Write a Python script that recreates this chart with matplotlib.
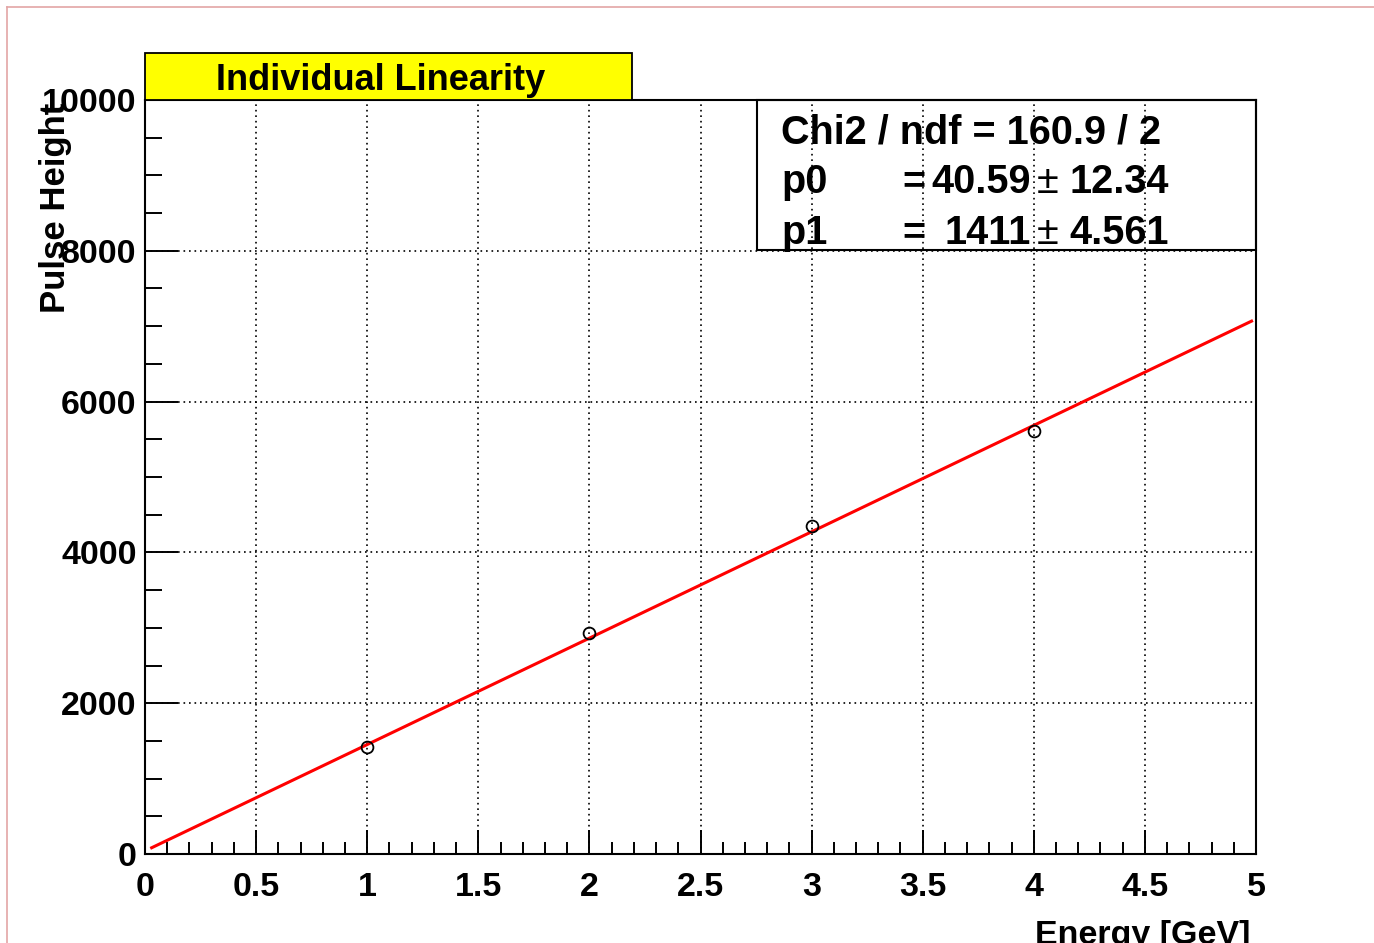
import numpy as np
import matplotlib
matplotlib.use('Agg')
import matplotlib.pyplot as plt
from matplotlib.lines import Line2D
from matplotlib.patches import Rectangle
from matplotlib.ticker import MultipleLocator

plt.rcParams['font.family'] = ['Liberation Sans', 'DejaVu Sans']
plt.rcParams['font.weight'] = 'bold'

# measured points
energy = [1, 2, 3, 4]
pulse = [1415, 2930, 4355, 5610]

# linear fit result (pol1)
p0, p0_err = 40.59, 12.34
p1, p1_err = 1411, 4.561
chi2, ndf = 160.9, 2
fit_lo, fit_hi = 0.03, 4.98

W, H = 1374, 943
fig = plt.figure(figsize=(W / 100, H / 100), dpi=100)


def fx(px):
    return px / W


def fy(py):
    return 1 - py / H


ax = fig.add_axes([fx(145), fy(854), fx(1256) - fx(145), fy(100) - fy(854)])

xf = np.array([fit_lo, fit_hi])
ax.plot(xf, p0 + p1 * xf, color='red', lw=2.2, zorder=3)
ax.plot(energy, pulse, 'o', mfc='none', mec='black', ms=8.5, mew=1.3, zorder=4)

ax.set_xlim(0, 5)
ax.set_ylim(0, 10000)
ax.xaxis.set_major_locator(MultipleLocator(0.5))
ax.xaxis.set_minor_locator(MultipleLocator(0.1))
ax.yaxis.set_major_locator(MultipleLocator(2000))
ax.yaxis.set_minor_locator(MultipleLocator(500))
ax.set_xticks(np.arange(0, 5.01, 0.5))
ax.set_xticklabels(['0', '0.5', '1', '1.5', '2', '2.5', '3', '3.5', '4', '4.5', '5'])

ax.tick_params(axis='x', which='major', direction='in', length=17, width=1.4,
               labelsize=24.5, pad=13)
ax.tick_params(axis='x', which='minor', direction='in', length=8.6, width=1.4)
ax.tick_params(axis='y', which='major', direction='in', length=24, width=1.4,
               labelsize=24.5, pad=6)
ax.tick_params(axis='y', which='minor', direction='in', length=12, width=1.4)
for lab in ax.get_xticklabels() + ax.get_yticklabels():
    lab.set_fontweight('bold')

ax.grid(True, which='major', color='black', lw=1.2, linestyle=(0, (1, 2.3)))
for sp in ax.spines.values():
    sp.set_linewidth(1.5)

# axis titles
fig.text(fx(56), fy(103), 'Pulse Height', rotation=90, ha='center', va='top',
         fontsize=25, fontweight='bold')
fig.text(fx(1250), fy(944), 'Energy [GeV]', ha='right', va='baseline',
         fontsize=24.5, fontweight='bold')

# title box
fig.add_artist(Rectangle((fx(145), fy(100)), fx(632) - fx(145), fy(53) - fy(100),
                         transform=fig.transFigure, facecolor='#ffff00',
                         edgecolor='black', lw=1.3, zorder=5))
fig.text(fx(381), fy(90), 'Individual Linearity', ha='center', va='baseline',
         fontsize=26, fontweight='bold', zorder=6)

# fit statistics box
fig.add_artist(Rectangle((fx(757), fy(250)), fx(1256) - fx(757), fy(100) - fy(250),
                         transform=fig.transFigure, facecolor='none',
                         edgecolor='black', lw=1.5, zorder=5))
st = dict(fontsize=28.5, fontweight='bold', va='baseline', zorder=6)
pm = dict(fontsize=28.5, fontweight='normal', va='baseline', zorder=6)
fig.text(fx(781), fy(143), f'Chi2 / ndf = {chi2} / {ndf}', **st)
fig.text(fx(781), fy(193), 'p0', **st)
fig.text(fx(902), fy(193), '=', **st)
fig.text(fx(1031), fy(193), f'{p0}', ha='right', **st)
fig.text(fx(1037), fy(193), '\u00b1', **pm)
fig.text(fx(1069), fy(193), f'{p0_err}', **st)
fig.text(fx(781), fy(244), 'p1', **st)
fig.text(fx(902), fy(244), '=', **st)
fig.text(fx(1031), fy(244), f'{p1}', ha='right', **st)
fig.text(fx(1037), fy(244), '\u00b1', **pm)
fig.text(fx(1069), fy(244), f'{p1_err}', **st)

# canvas frame edges
pink = '#e3a6a6'
fig.add_artist(Line2D([fx(6.5), fx(6.5)], [0, fy(6.5)], color=pink, lw=1.2))
fig.add_artist(Line2D([fx(6.5), 1], [fy(6.5), fy(6.5)], color=pink, lw=1.2))

fig.savefig('out.png', dpi=100)
